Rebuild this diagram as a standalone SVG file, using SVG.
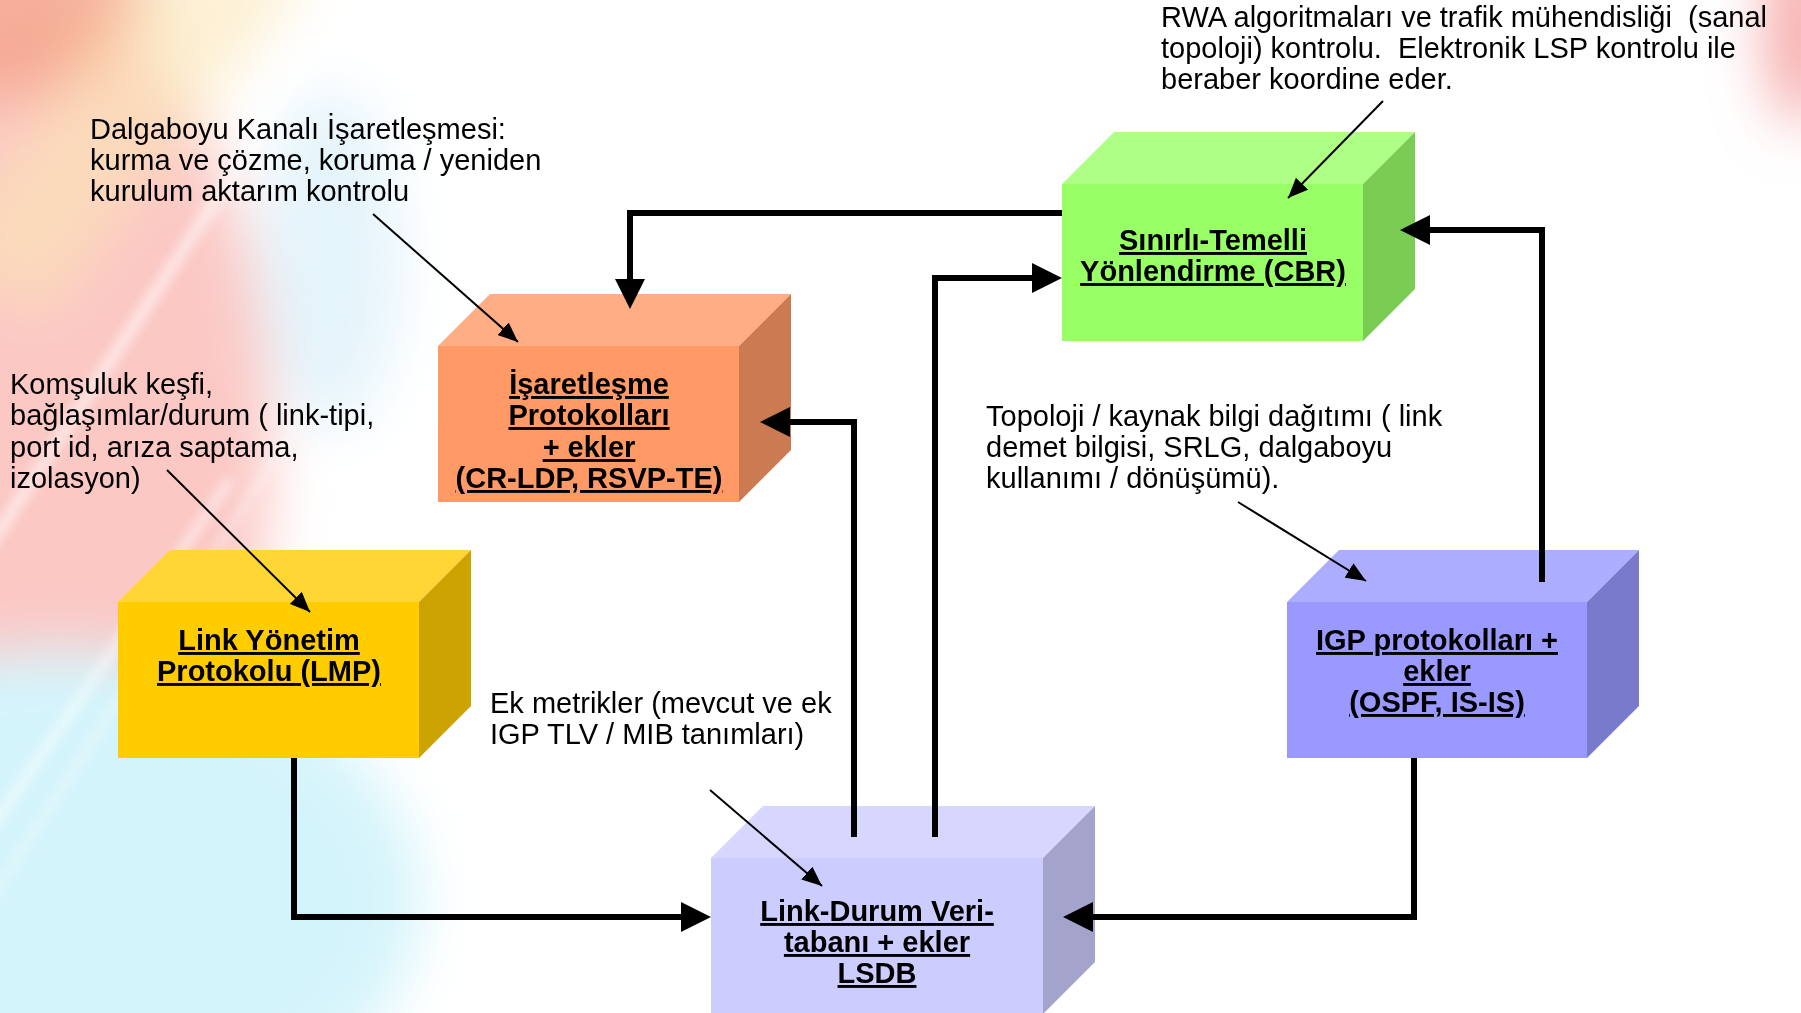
<svg xmlns="http://www.w3.org/2000/svg" width="1801" height="1013" viewBox="0 0 1801 1013">
  <defs>
    <style>
      .note{font-family:"Liberation Sans",Arimo,Arial,sans-serif;font-size:29px;fill:#000;white-space:pre}
      .lbl{font-family:"Liberation Sans",Arimo,Arial,sans-serif;font-size:29px;font-weight:bold;fill:#000;text-anchor:middle;text-decoration:underline;text-decoration-thickness:3px}
      .flow{fill:none;stroke:#000;stroke-width:6;marker-end:url(#bigHead)}
      .pointer{fill:none;stroke:#000;stroke-width:2;marker-end:url(#smallHead)}
    </style>
    <marker id="bigHead" markerUnits="userSpaceOnUse" markerWidth="30" markerHeight="30" refX="10" refY="15" orient="auto">
      <path d="M0,0 L30,15 L0,30 z" fill="#000"/>
    </marker>
    <marker id="smallHead" markerUnits="userSpaceOnUse" markerWidth="20" markerHeight="17" refX="20" refY="8.5" orient="auto">
      <path d="M0,0 L20,8.5 L0,17 z" fill="#000"/>
    </marker>
    <filter id="haze" filterUnits="userSpaceOnUse" x="-200" y="-200" width="2200" height="1400">
      <feGaussianBlur stdDeviation="28"/>
    </filter>
    <filter id="soft" filterUnits="userSpaceOnUse" x="-200" y="-200" width="2200" height="1400">
      <feGaussianBlur stdDeviation="6"/>
    </filter>
  </defs>

  <!-- backdrop: white page with a soft colour swoosh on the left edge -->
  <rect x="0" y="0" width="1801" height="1013" fill="#fff"/>
  <g id="backdrop">
    <g filter="url(#haze)">
      <ellipse cx="50" cy="440" rx="220" ry="430" fill="#fbc8c4"/>
      <ellipse cx="60" cy="900" rx="360" ry="250" fill="#d4f4fb"/>
      <ellipse cx="330" cy="260" rx="70" ry="170" fill="#d8effa" opacity="0.7"/>
      <ellipse cx="0" cy="0" rx="150" ry="100" fill="#f4a48c" opacity="0.85"/>
      <polygon points="150,-40 320,-40 40,320 -60,250" fill="#fbe6b6" opacity="0.6"/>
      <ellipse cx="1801" cy="30" rx="35" ry="95" fill="#f6a8a8"/>
    </g>
    <g filter="url(#soft)" stroke="#fff" fill="none" opacity="0.6">
      <line x1="360" y1="-20" x2="-20" y2="560" stroke-width="12"/>
      <line x1="230" y1="480" x2="-10" y2="830" stroke-width="9"/>
      <line x1="300" y1="420" x2="-10" y2="900" stroke-width="5"/>
    </g>
  </g>

  <!-- signalling protocols block -->
  <g id="signalling">
    <rect x="438" y="346" width="301" height="156" fill="#ff9966"/>
    <polygon points="438,346 490,294 791,294 739,346" fill="#ffad85"/>
    <polygon points="739,346 791,294 791,450 739,502" fill="#cc7a52"/>
    <text class="lbl"><tspan x="589" y="394">İşaretleşme</tspan><tspan x="589" y="425">Protokolları</tspan><tspan x="589" y="457">+ ekler</tspan><tspan x="589" y="488">(CR-LDP, RSVP-TE)</tspan></text>
  </g>

  <!-- link management protocol block -->
  <g id="lmp">
    <rect x="118" y="602" width="301" height="156" fill="#ffcc00"/>
    <polygon points="118,602 170,550 471,550 419,602" fill="#ffd633"/>
    <polygon points="419,602 471,550 471,706 419,758" fill="#cca300"/>
    <text class="lbl"><tspan x="269" y="650">Link Yönetim</tspan><tspan x="269" y="681">Protokolu (LMP)</tspan></text>
  </g>

  <!-- constraint based routing block -->
  <g id="cbr">
    <rect x="1062" y="184" width="301" height="157" fill="#99ff66"/>
    <polygon points="1062,184 1114,132 1415,132 1363,184" fill="#adff85"/>
    <polygon points="1363,184 1415,132 1415,289 1363,341" fill="#7acc52"/>
    <text class="lbl"><tspan x="1213" y="250">Sınırlı-Temelli</tspan><tspan x="1213" y="281">Yönlendirme (CBR)</tspan></text>
  </g>

  <!-- IGP protocols block -->
  <g id="igp">
    <rect x="1287" y="602" width="300" height="156" fill="#9999ff"/>
    <polygon points="1287,602 1339,550 1639,550 1587,602" fill="#adadff"/>
    <polygon points="1587,602 1639,550 1639,706 1587,758" fill="#7a7acc"/>
    <text class="lbl"><tspan x="1437" y="650">IGP protokolları +</tspan><tspan x="1437" y="681">ekler</tspan><tspan x="1437" y="712">(OSPF, IS-IS)</tspan></text>
  </g>

  <!-- link state database block -->
  <g id="lsdb">
    <rect x="711" y="858" width="332" height="156" fill="#ccccff"/>
    <polygon points="711,858 763,806 1095,806 1043,858" fill="#d6d6ff"/>
    <polygon points="1043,858 1095,806 1095,962 1043,1014" fill="#a3a3cc"/>
    <text class="lbl"><tspan x="877" y="921">Link-Durum Veri-</tspan><tspan x="877" y="952">tabanı + ekler</tspan><tspan x="877" y="983">LSDB</tspan></text>
  </g>

  <!-- connectors between the blocks (drawn over the block faces) -->
  <g id="connectors">
    <path class="flow" d="M1062,213 H630 V289"/>
    <path class="flow" d="M854,837 V422 H780"/>
    <path class="flow" d="M935,837 V278 H1042"/>
    <path class="flow" d="M1542,582 V230 H1420"/>
    <path class="flow" d="M294,758 V917 H691"/>
    <path class="flow" d="M1414,758 V917 H1083"/>
  </g>

  <!-- explanatory notes with their pointers -->
  <g id="note-wavelength">
    <text class="note"><tspan x="90" y="139">Dalgaboyu Kanalı İşaretleşmesi:</tspan><tspan x="90" y="170">kurma ve çözme, koruma / yeniden</tspan><tspan x="90" y="201">kurulum aktarım kontrolu</tspan></text>
    <line class="pointer" x1="373" y1="214" x2="518" y2="342"/>
  </g>
  <g id="note-neighbour">
    <text class="note"><tspan x="10" y="394">Komşuluk keşfi,</tspan><tspan x="10" y="425">bağlaşımlar/durum ( link-tipi,</tspan><tspan x="10" y="456.5">port id, arıza saptama,</tspan><tspan x="10" y="488">izolasyon)</tspan></text>
    <line class="pointer" x1="167" y1="470" x2="310" y2="612"/>
  </g>
  <g id="note-rwa">
    <text class="note"><tspan x="1161" y="27">RWA algoritmaları ve trafik mühendisliği  (sanal</tspan><tspan x="1161" y="58">topoloji) kontrolu.  Elektronik LSP kontrolu ile</tspan><tspan x="1161" y="89">beraber koordine eder.</tspan></text>
    <line class="pointer" x1="1383" y1="101" x2="1288" y2="198"/>
  </g>
  <g id="note-topology">
    <text class="note"><tspan x="986" y="426">Topoloji / kaynak bilgi dağıtımı ( link</tspan><tspan x="986" y="457">demet bilgisi, SRLG, dalgaboyu</tspan><tspan x="986" y="488">kullanımı / dönüşümü).</tspan></text>
    <line class="pointer" x1="1238" y1="502" x2="1366" y2="581"/>
  </g>
  <g id="note-metrics">
    <text class="note"><tspan x="490" y="713">Ek metrikler (mevcut ve ek</tspan><tspan x="490" y="744">IGP TLV / MIB tanımları)</tspan></text>
    <line class="pointer" x1="710" y1="790" x2="822" y2="886"/>
  </g>
</svg>
